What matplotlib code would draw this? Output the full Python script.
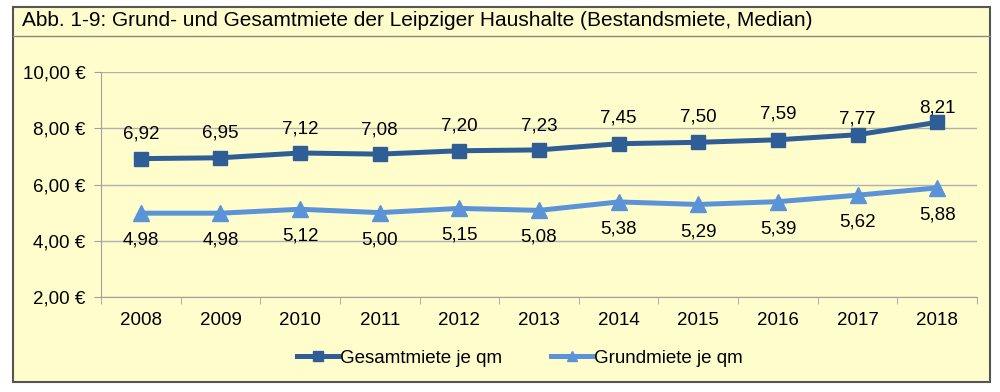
import matplotlib.pyplot as plt
import numpy as np
from matplotlib.patches import Rectangle
from matplotlib.lines import Line2D

jahre = ["2008", "2009", "2010", "2011", "2012", "2013", "2014", "2015", "2016", "2017", "2018"]
gesamtmiete = [6.92, 6.95, 7.12, 7.08, 7.20, 7.23, 7.45, 7.50, 7.59, 7.77, 8.21]
grundmiete = [4.98, 4.98, 5.12, 5.00, 5.15, 5.08, 5.38, 5.29, 5.39, 5.62, 5.88]

# Abstand der Beschriftungen (pt), die letzten beiden wurden im Original nachgerückt
oben_abstand = [17.5, 17.5, 17.5, 17.5, 17.5, 17.5, 18.5, 18.5, 18.5, 11.5, 10.5]

bg = "#FFFDCC"
dunkel = "#2F5E97"
hell = "#5B93D8"

plt.rcParams['font.family'] = ['Liberation Sans', 'DejaVu Sans']

fig = plt.figure(figsize=(10, 3.92), dpi=100)
fig.patch.set_facecolor("white")

# Rahmen und Titelleiste
fig.patches.append(Rectangle((0.013, 1 - 382 / 392), 0.977, (382 - 7) / 392,
                             transform=fig.transFigure, facecolor=bg,
                             edgecolor="#555555", linewidth=1.5, zorder=-5))
fig.lines.append(Line2D([0.013, 0.990], [1 - 36 / 392, 1 - 36 / 392],
                        transform=fig.transFigure, color="#888888", linewidth=1, zorder=-4))
fig.text(0.022, 1 - 21 / 392, "Abb. 1-9: Grund- und Gesamtmiete der Leipziger Haushalte (Bestandsmiete, Median)",
         fontsize=15, va="center", ha="left")

ax = plt.axes([0.101, 1 - 297 / 392, 0.876, (297 - 72) / 392])
ax.set_facecolor(bg)
x = np.arange(len(jahre))

ax.plot(x, gesamtmiete, color=dunkel, linewidth=3.6, marker="s", markersize=10,
        label="Gesamtmiete je qm", zorder=3)
ax.plot(x, grundmiete, color=hell, linewidth=3.6, marker="^", markersize=11,
        label="Grundmiete je qm", zorder=3)

for xi, v, d in zip(x, gesamtmiete, oben_abstand):
    ax.annotate(f"{v:.2f}".replace(".", ","), (xi, v), xytext=(0, d), textcoords="offset points",
                ha="center", va="center", fontsize=13.5)
for xi, v in zip(x, grundmiete):
    ax.annotate(f"{v:.2f}".replace(".", ","), (xi, v), xytext=(0, -19.5), textcoords="offset points",
                ha="center", va="center", fontsize=13.5)

ax.set_xlim(-0.5, len(jahre) - 0.5)
ax.set_ylim(2, 10)
ax.set_yticks([2, 4, 6, 8, 10])
ax.set_yticklabels([f"{t:.2f} €".replace(".", ",") for t in [2, 4, 6, 8, 10]], fontsize=13.5)
ax.set_xticks(x)
ax.set_xticklabels(jahre, fontsize=13.5)
ax.set_xticks(np.arange(-0.5, len(jahre)), minor=True)
ax.tick_params(axis="x", which="major", length=0, pad=11)
ax.tick_params(axis="x", which="minor", length=5, color="#A0A0A0")
ax.tick_params(axis="y", length=5, color="#A0A0A0", pad=6)
ax.grid(axis="y", color="#B0B0B0", linewidth=1)
ax.set_axisbelow(True)
for s in ["top", "right"]:
    ax.spines[s].set_visible(False)
for s in ["left", "bottom"]:
    ax.spines[s].set_color("#A0A0A0")

fig.legend(loc="center", bbox_to_anchor=(0.52, 1 - 358 / 392), ncol=2, frameon=False,
           fontsize=13.5, handlelength=2.2, columnspacing=2.6, handletextpad=0.1, markerscale=0.65)

fig.savefig("out.png", dpi=100, facecolor=fig.get_facecolor())
